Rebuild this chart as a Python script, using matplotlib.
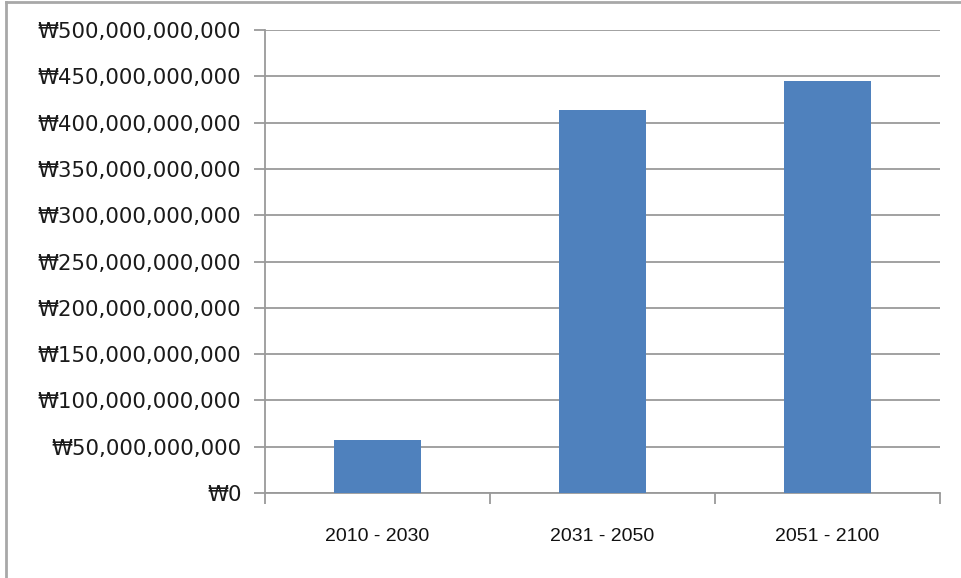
import matplotlib
matplotlib.use("Agg")
import matplotlib.pyplot as plt
from matplotlib.ticker import FuncFormatter, MultipleLocator
from matplotlib.lines import Line2D

plt.rcParams['font.family'] = ['DejaVu Sans', 'Noto Sans CJK KR']

categories = ["2010 - 2030", "2031 - 2050", "2051 - 2100"]
values = [57e9, 414e9, 445e9]

W, H = 961, 578
fig = plt.figure(figsize=(W / 100, H / 100), dpi=100)
ax = fig.add_axes([265 / W, 1 - 493 / H, (940 - 265) / W, (493 - 30) / H])

x = list(range(len(categories)))
ax.bar(x, values, width=0.39, color="#4F81BD", zorder=3)

ax.set_xlim(-0.5, len(categories) - 0.5)
ax.set_ylim(0, 500e9)
ax.yaxis.set_major_locator(MultipleLocator(50e9))
ax.yaxis.set_major_formatter(FuncFormatter(lambda v, p: "₩" + f"{int(round(v)):,}"))
ax.grid(axis="y", color="#9a9a9a", linewidth=1.3, zorder=0)

ax.set_xticks([i - 0.5 for i in range(len(categories) + 1)], minor=False)
ax.set_xticklabels([])
ax.set_xticks(x, minor=True)
ax.set_xticklabels(categories, minor=True,
                   fontfamily=['Liberation Sans Narrow', 'Liberation Sans', 'DejaVu Sans'])
ax.tick_params(axis="x", which="major", length=8, width=1.3, color="#9a9a9a", direction="out")
ax.tick_params(axis="x", which="minor", length=0, pad=25, labelsize=14, labelcolor="#111111")
ax.tick_params(axis="y", length=8, width=1.3, color="#9a9a9a", direction="out", labelsize=15.3,
               labelcolor="#1a1a1a", pad=9)

for s in ["top", "right"]:
    ax.spines[s].set_visible(False)
for s in ["left", "bottom"]:
    ax.spines[s].set_color("#9a9a9a")
    ax.spines[s].set_linewidth(1.3)

# outer chart frame
fig.add_artist(Line2D([5.5 / W, 5.5 / W], [0, 1 - 1.5 / H], transform=fig.transFigure,
                      color="#a8a8a8", linewidth=2))
fig.add_artist(Line2D([5.5 / W, 1], [1 - 1.5 / H, 1 - 1.5 / H], transform=fig.transFigure,
                      color="#a8a8a8", linewidth=2))

fig.savefig("out.png", dpi=100)
